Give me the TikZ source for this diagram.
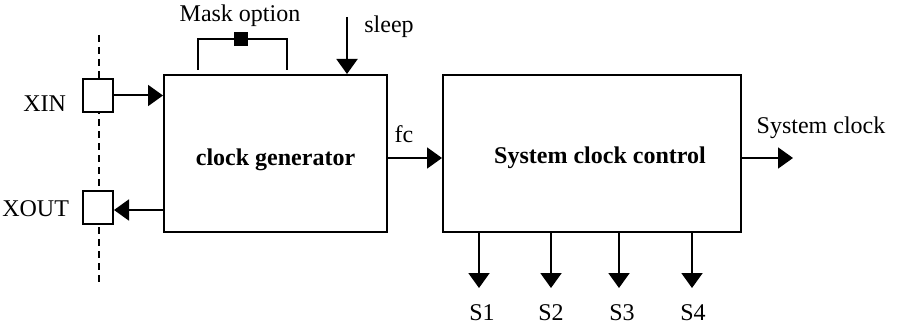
\documentclass[tikz,border=0pt]{standalone}
\usepackage{fontspec}
\setmainfont{Liberation Serif}
\usetikzlibrary{arrows.meta}
\begin{document}
\begin{tikzpicture}[x=1pt,y=-1pt,
  line width=2pt,
  blk/.style={draw, rectangle, minimum width=#1, minimum height=157pt, inner sep=0pt},
  pin/.style={draw, rectangle, minimum width=30pt, minimum height=33pt, inner sep=0pt, fill=white},
  lbl/.style={inner sep=0pt, anchor=base},
  sig/.style={-{Triangle[length=15pt,width=21pt]}},
  every node/.style={font=\fontsize{24}{28}\selectfont}]
\useasboundingbox (0,0) rectangle (901,326);
% dashed boundary
\coordinate (dtop) at (99,35);
\coordinate (dbot) at (99,285);
\draw[dash pattern=on 7pt off 5pt, line width=1.8pt] (dtop) -- (dbot);
% blocks
\node[blk=223pt] (cg) at (275.5,153.5) {};
\node[lbl, font=\fontsize{24}{28}\selectfont\bfseries] (cgt) at (275.5,165) {clock generator};
\node[blk=298pt] (scc) at (592,153.5) {};
\node[lbl, font=\fontsize{24}{28}\selectfont\bfseries] (scct) at (600,163) {System clock control};
% pins
\node[pin] (xin) at (98,95.5) {};
\node[pin] (xout) at (98,207.5) {};
\node[lbl, anchor=base east] (xinl) at (67,111) {XIN};
\node[lbl, anchor=base east] (xoutl) at (70,216) {XOUT};
\draw[sig] (xin.east) -- (cg.west |- xin.east);
\draw[sig] (cg.west |- 0,210) -- (xout.east |- 0,210);
% mask option
\coordinate (ml) at (198,70);
\coordinate (mr) at (287,70);
\node[draw, fill=black, minimum size=12pt, inner sep=0pt] (msq) at (241,39) {};
\draw[line width=1.8pt] (ml) -- (198,39) -- (msq.west);
\draw[line width=1.8pt] (msq.east) -- (287,39) -- (mr);
\node[lbl] (mtxt) at (240,22) {Mask option};
% sleep
\coordinate (sl) at (347,17);
\draw[sig] (sl) -- (cg.north -| sl);
\node[lbl] (slt) at (389,33) {sleep};
% fc
\draw[sig] (cg.east |- 0,158) -- (scc.west |- 0,158);
\node[lbl] (fct) at (404,142) {fc};
% system clock out
\coordinate (sco) at (793,158);
\draw[sig] (scc.east |- sco) -- (sco);
\node[lbl] (sclk) at (821,133) {System clock};
% S outputs
\foreach \x/\lx/\t in {479/482/S1, 551/551/S2, 619/622/S3, 692/693/S4}{
  \coordinate (e\t) at (\x,288);
  \draw[sig] (scc.south -| e\t) -- (e\t);
  \node[lbl] (l\t) at (\lx,320) {\t};
}
\end{tikzpicture}
\end{document}
